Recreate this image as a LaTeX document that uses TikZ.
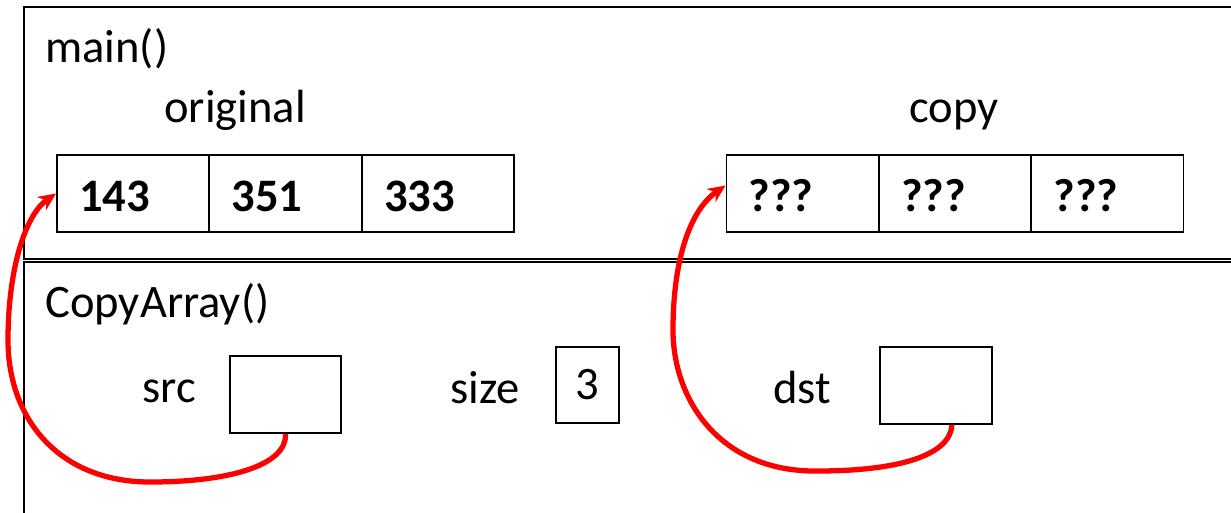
\documentclass[tikz,border=0pt]{standalone}
\usepackage{fontspec}
\setmainfont{Carlito}
\usetikzlibrary{arrows.meta}

\begin{document}
\begin{tikzpicture}[x=0.02cm, y=-0.02cm,
    frame/.style={line width=1.1pt},
    txt/.style={font=\fontsize{26.5}{30}\selectfont, inner sep=0pt, anchor=base west},
    cell/.style={draw, line width=1.1pt, minimum width=3.04cm, minimum height=1.54cm,
        text width=2.16cm, inner xsep=0.44cm, inner ysep=0pt, align=left,
        text height=0.71cm, text depth=0cm,
        font=\fontsize{26.5}{30}\selectfont\bfseries},
    var/.style={draw, line width=1.1pt, inner sep=0pt, minimum height=1.54cm,
        font=\fontsize{26.5}{30}\selectfont},
    ptr/.style={red, line width=3pt, -{Stealth[length=10pt, width=9pt]}}
]
    \useasboundingbox (0,0) rectangle (1231,512);
    \clip (0,0) rectangle (1231,512);

    % Stack frames
    \draw[frame] (1240,7) -- (24,7) -- (24,259) -- (1240,259);
    \draw[frame] (1240,262) -- (24,262) -- (24,520);

    % main()
    \node[txt] (main) at (45,62) {main()};
    \node[txt, anchor=base] (orig) at (235,122) {original};
    \node[txt, anchor=base] (cpy)  at (954,122) {copy};
    \foreach \v [count=\i] in {143,351,333}{
        \node[cell] (o\i) at ({133+152.5*(\i-1)},193.5) {\v};
    }
    \foreach \v [count=\i] in {???,???,???}{
        \node[cell] (c\i) at ({802.5+152.5*(\i-1)},193.5) {\v};
    }

    % CopyArray()
    \node[txt] (fn) at (45,317) {CopyArray()};
    \node[txt] (srcl)  at (142,402) {src};
    \node[var, minimum width=2.22cm] (src) at (285.5,394.5) {};
    \node[txt] (sizel) at (450,403) {size};
    \node[var, minimum width=1.26cm, minimum height=1.52cm] (size) at (587.5,385) {3};
    \node[txt] (dstl)  at (773,403) {dst};
    \node[var, minimum width=2.24cm] (dst) at (936,385.5) {};

    % Pointers
    \draw[ptr] (src.south) .. controls (287,465) and (230,482) .. (150,482)
        .. controls (60,482) and (8,420) .. (8,340)
        .. controls (8,270) and (25,215) .. (o1.west);
    \draw[ptr] ([xshift=0.32cm]dst.south) .. controls (950,455) and (900,471) .. (817,471)
        .. controls (720,472) and (673,400) .. (673,330)
        .. controls (673,260) and (690,210) .. ([yshift=0.16cm]c1.west);

\end{tikzpicture}
\end{document}
